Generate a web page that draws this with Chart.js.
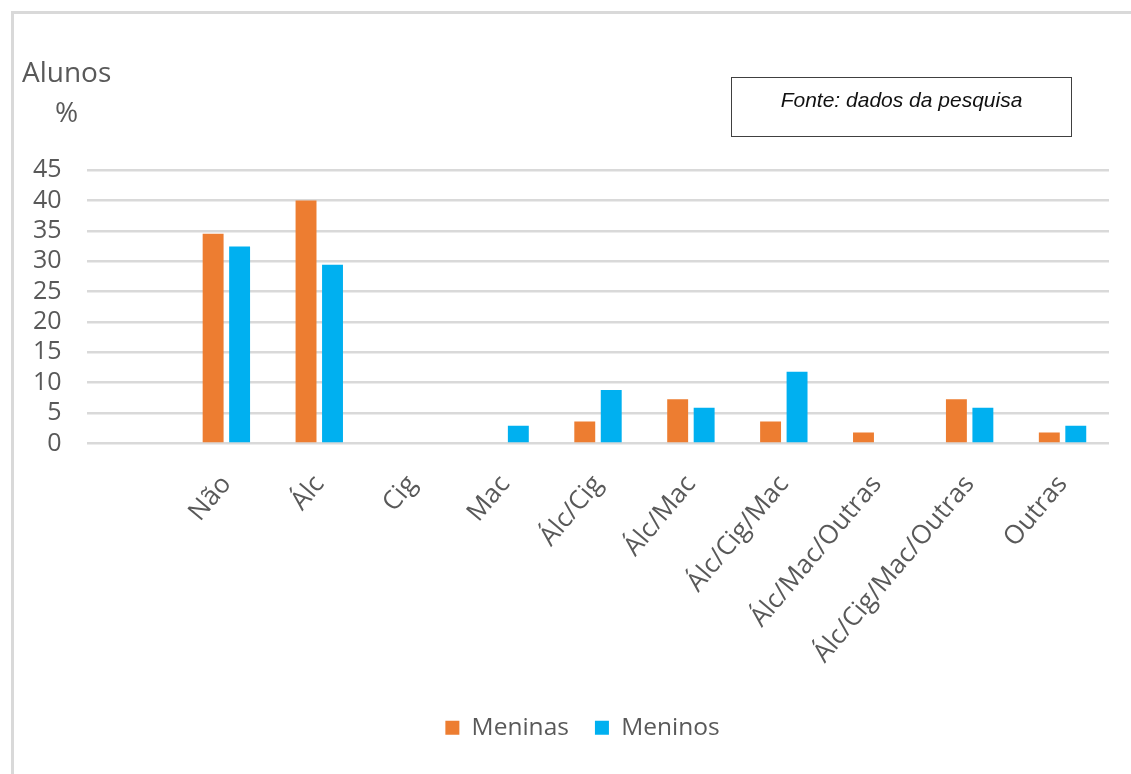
<!DOCTYPE html>
<html>
<head>
<meta charset="utf-8">
<script src="https://cdn.jsdelivr.net/npm/chart.js@4/dist/chart.umd.min.js"></script>
<style>
  html, body { margin: 0; padding: 0; background: #fff; }
  #wrap { position: relative; width: 1131px; height: 774px; overflow: hidden; background: #fff; }
  #frame { position: absolute; left: 11px; top: 11px; width: 1200px; height: 900px; border-left: 3px solid #d9d9d9; border-top: 3px solid #d9d9d9; box-sizing: border-box; }
  canvas { position: absolute; left: 0; top: 0; }
  .ytitle { position: absolute; font-family: "Open Sans", sans-serif; color: #595959; font-size: 28px; line-height: 28px; white-space: nowrap; }
  #fonte { position: absolute; left: 731px; top: 77px; width: 341px; height: 60px; box-sizing: border-box; border: 1px solid #404040; font-family: "Liberation Sans", Arial, sans-serif; font-style: italic; font-size: 21px; line-height: 21px; text-align: center; padding-top: 11px; color: #111; }
</style>
</head>
<body>
<div id="wrap">
  <div id="frame"></div>
  <canvas id="c" width="1131" height="774"></canvas>
  <div class="ytitle" style="left:22px; top:57px;">Alunos</div>
  <div class="ytitle" style="left:55px; top:97px;">%</div>
  <div id="fonte">Fonte: dados da pesquisa</div>
</div>
<script>
const categories = ['', 'Não', 'Álc', 'Cig', 'Mac', 'Álc/Cig', 'Álc/Mac', 'Álc/Cig/Mac', 'Álc/Mac/Outras', 'Álc/Cig/Mac/Outras', 'Outras'];
const meninas = [null, 34.5, 40.0, 0, 0, 3.6, 7.3, 3.6, 1.8, 7.3, 1.8];
const meninos = [null, 32.4, 29.4, 0, 2.9, 8.8, 5.9, 11.8, 0, 5.9, 2.9];
const seriesNames = ['Meninas', 'Meninos'];
const yMax = 45;
const yStep = 5;

const gray = '#595959';

new Chart(document.getElementById('c'), {
  type: 'bar',
  data: {
    labels: categories,
    datasets: [
      { label: seriesNames[0], data: meninas, backgroundColor: '#ED7D31', borderWidth: 0 },
      { label: seriesNames[1], data: meninos, backgroundColor: '#00B0F0', borderWidth: 0 }
    ]
  },
  options: {
    responsive: false,
    animation: false,
    devicePixelRatio: 1,
    categoryPercentage: 0.57,
    barPercentage: 0.79,
    layout: { padding: { top: 170, left: 56, right: 22, bottom: 24 } },
    plugins: {
      tooltip: { enabled: false },
      legend: {
        position: 'bottom',
        labels: {
          font: { family: 'Open Sans', size: 24.5 },
          color: gray,
          boxWidth: 14,
          boxHeight: 14,
          padding: 26
        }
      }
    },
    scales: {
      x: {
        grid: { display: false },
        border: { display: false },
        ticks: {
          color: gray,
          font: { family: 'Open Sans', size: 26 },
          minRotation: 50,
          maxRotation: 50,
          autoSkip: false,
          padding: 18
        },
        afterFit: s => { s.height = 246; }
      },
      y: {
        min: 0,
        max: yMax,
        ticks: {
          stepSize: yStep,
          autoSkip: false,
          color: gray,
          font: { family: 'Open Sans', size: 25 },
          mirror: true,
          crossAlign: 'far',
          padding: -54
        },
        grid: { color: '#d9d9d9', lineWidth: 2.5, drawTicks: false },
        border: { display: false },
        afterFit: s => { s.width = 31; }
      }
    }
  }
});
</script>
</body>
</html>
